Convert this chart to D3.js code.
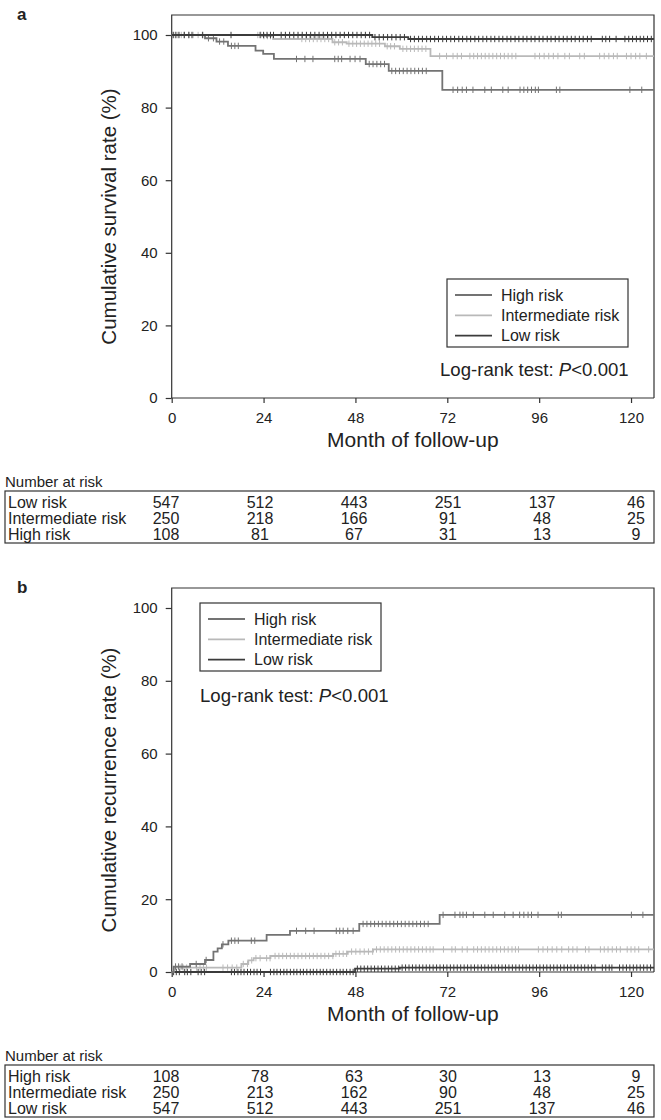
<!DOCTYPE html>
<html>
<head>
<meta charset="utf-8">
<script src="https://cdn.jsdelivr.net/npm/d3@7"></script>
<style>
  body { margin: 0; background: #fff; }
  svg { display: block; font-family: "Liberation Sans", Arial, Helvetica, sans-serif; }
</style>
</head>
<body>
<div id="chart"></div>
<script>
// follow-up months shown on the x axis and in the at-risk tables
const months = [0, 24, 48, 72, 96, 120];
const yTicks = [0, 20, 40, 60, 80, 100];
const groups = ["High risk", "Intermediate risk", "Low risk"];

// panel a: cumulative survival (%) steps [month, value]
const survHigh = [[0, 100], [8.7, 99.1], [11.7, 98.2], [14.7, 97.0], [21.9, 95.7], [23.9, 94.8], [26.7, 93.4], [50.7, 92.0], [56.7, 90.1], [70.7, 84.9]];
const survInt = [[0, 100], [23.5, 99.7], [26.5, 98.9], [42.0, 98.0], [45.7, 97.6], [55.7, 96.9], [59.6, 96.2], [67.6, 94.2]];
const survLow = [[0, 100], [52.4, 99.4], [61.8, 98.9]];

// panel a: censored times (months)
const survHighCens = [9.6, 10.9, 12.5, 13.6, 15.6, 16.5, 17.4, 32.6, 34.8, 36.9, 42.6, 43.5, 44.4, 46.6, 47.9, 49.2, 51.6, 52.6, 53.6, 54.6, 55.6,
  57.5, 58.5, 59.5, 60.5, 61.5, 62.5, 63.5, 64.5, 65.5, 66.5, 73.5, 74.7, 75.9, 77.0, 78.7, 81.8, 83.5, 86.5, 87.9,
  91.0, 92.0, 93.0, 94.0, 95.0, 95.8, 100.5, 101.4, 119.7, 122.8];
const survIntCens = [0.3, 0.9, 1.6, 2.5, 3.2, 4.4, 5.6, 6.9, 8.0, 22.5, 23.3, 24.1, 25.0, 25.8, 34.0, 35.0, 36.0, 37.0, 38.0, 39.0, 40.0, 41.0,
  42.6, 43.6, 44.6, 46.3, 47.3, 48.3, 49.3, 50.3, 51.3, 52.3, 53.3, 54.3, 56.3, 57.2, 58.2, 60.4, 61.4, 62.4, 63.4, 64.4, 65.4, 66.4,
  70.0, 71.8, 73.5, 74.6, 75.7, 77.9, 78.9, 79.9, 80.9, 81.9, 82.9, 83.9, 84.9, 85.9, 86.9, 87.9, 88.9, 89.9,
  94.9, 96.1, 97.3, 98.5, 99.7, 100.9, 102.7, 103.9, 106.6, 107.8, 111.8, 113.0, 114.2, 115.4, 116.4, 118.8, 120.0, 121.2, 122.3, 124.0];
const survLowCens = [0.4, 1.1, 1.9, 3.3, 4.5, 5.3, 8.1, 15.5, 23.1, 24.0, 24.9, 25.8, 26.6,
  28.6, 29.7, 30.8, 31.9, 33.0, 34.1, 35.2, 36.3, 37.4, 38.5, 39.6, 40.7, 41.8, 42.9, 44.0, 45.1, 46.2, 47.3, 48.4, 49.5, 50.6, 51.7,
  53.1, 54.2, 55.3, 56.4, 57.5, 58.6, 59.7, 60.8,
  62.4, 63.4, 64.5, 65.5, 66.6, 67.6, 68.7, 69.7, 70.8, 71.8, 72.9, 73.9, 75.0, 76.0, 77.1, 78.1, 79.2, 80.2, 81.3, 82.3, 83.4, 84.4,
  85.5, 86.5, 87.6, 88.6, 89.7, 90.7, 91.8, 92.8, 93.9, 94.9, 96.0, 97.0, 98.1, 99.1, 100.2, 101.2, 102.3, 103.3, 104.4, 105.4,
  106.5, 107.5, 108.6, 109.6, 112.5, 113.4, 114.4, 116.1, 118.4, 119.4, 120.4, 121.4, 122.4, 123.3, 124.3, 125.3];

// panel b: cumulative recurrence (%) steps
const recHigh = [[0, 0], [0.5, 1.5], [4.8, 2.2], [8.7, 3.3], [10.9, 5.6], [12.0, 6.5], [13.1, 7.6], [14.8, 8.6], [24.8, 10.2], [30.9, 11.3], [49.0, 13.2], [70.0, 15.7]];
const recInt = [[0, 0], [0.5, 1.2], [18.2, 2.2], [20.0, 3.2], [21.4, 3.8], [25.8, 4.4], [42.2, 5.0], [46.0, 5.6], [52.6, 6.2]];
const recLow = [[0, 0], [47.9, 0.9], [59.6, 1.2]];

// panel b: censored times
const recHighCens = [1.0, 1.8, 2.7, 6.4, 9.0, 13.4, 15.6, 16.5, 17.4, 20.8, 21.7, 32.6, 35.0, 37.2, 43.0, 43.9, 44.8, 46.0, 47.4,
  50.0, 51.0, 52.0, 53.0, 54.0, 55.0, 56.0, 57.0, 58.0, 59.0, 60.0, 61.0, 62.0, 63.0, 64.0, 65.0, 66.0, 67.0,
  70.9, 74.0, 75.3, 76.1, 77.0, 78.8, 81.8, 84.0, 87.0, 89.2, 90.9, 92.0, 93.1, 94.0, 95.7, 101.0, 101.8, 120.1, 123.1];
const recIntCens = [2.2, 3.0, 3.9, 6.5, 7.4, 8.3, 9.1, 13.4, 14.6, 15.8, 17.0, 18.7, 19.8, 20.9, 22.0, 23.1, 24.8, 25.7,
  27.0, 28.0, 29.0, 30.0, 31.0, 32.0, 33.0, 34.0, 35.0, 36.0, 37.0, 38.0, 39.0, 40.0, 41.0, 42.1, 42.9, 43.8, 44.8, 45.7,
  47.0, 48.1, 49.2, 50.3, 51.4, 52.5, 53.5, 54.5, 55.5, 56.5, 57.5, 58.5, 59.5, 60.5, 61.5, 62.5, 63.5, 64.5, 65.5, 66.5, 67.5, 68.3,
  71.0, 73.2, 74.1, 75.9, 77.2, 78.9, 79.9, 80.9, 81.9, 82.9, 83.9, 84.9, 85.9, 86.9, 87.9, 88.9, 89.8, 90.6,
  95.8, 97.0, 98.2, 99.4, 100.6, 101.9, 103.7, 104.8, 105.9, 108.1, 109.0, 112.0, 113.0, 114.0, 115.1, 116.2, 117.2,
  119.0, 120.0, 121.0, 122.0, 124.6];
const recLowCens = [0.5, 1.2, 2.0, 3.4, 4.1, 5.0, 6.9, 7.7, 8.6, 15.6, 16.4, 17.3, 18.1, 18.9, 19.8, 20.6, 21.5, 22.3, 23.2,
  25.8, 26.7, 27.5, 28.4, 29.3, 30.1, 31.0, 31.9, 32.7, 33.6, 34.4, 35.3, 36.2, 37.0, 37.9, 38.8, 39.6, 40.5, 41.4, 42.2, 43.1, 44.0,
  44.8, 45.7, 46.6, 47.4, 48.5, 49.4, 50.3, 51.2, 52.1, 53.0, 53.9, 54.8, 55.7, 56.6, 57.5, 58.4, 59.3, 60.2, 61.1, 62.0, 62.9,
  63.8, 64.7, 65.6, 66.5, 67.4, 68.3, 69.2, 70.1, 71.0, 71.9, 72.8, 73.7, 74.6, 75.5, 76.4, 77.3, 78.2, 79.1, 80.0, 80.9, 81.8,
  82.7, 83.6, 84.5, 85.4, 86.3, 87.2, 88.1, 89.0, 89.9, 90.8, 91.7, 92.6, 93.5, 94.4, 95.3, 96.2, 97.1, 98.0, 98.9, 99.8, 100.7,
  101.6, 102.5, 103.4, 104.3, 105.2, 106.1, 107.0, 107.9, 108.8, 109.7, 110.6, 112.5, 113.4, 114.3, 115.0,
  117.0, 117.9, 118.8, 119.7, 120.6, 121.5, 122.4, 123.3, 124.2, 125.1];

// number at risk
const riskA_low = [547, 512, 443, 251, 137, 46];
const riskA_int = [250, 218, 166, 91, 48, 25];
const riskA_high = [108, 81, 67, 31, 13, 9];
const riskB_high = [108, 78, 63, 30, 13, 9];
const riskB_int = [250, 213, 162, 90, 48, 25];
const riskB_low = [547, 512, 443, 251, 137, 46];

const W = 661, H = 1120;
const maxMonth = 126;
const colors = { "High risk": "#737373", "Intermediate risk": "#b9b9b9", "Low risk": "#3b3b3b" };
const ink = "#222";

const svg = d3.select("#chart").append("svg")
  .attr("width", W).attr("height", H);
svg.append("rect").attr("width", W).attr("height", H).attr("fill", "#fff");

const x = d3.scaleLinear().domain([0, maxMonth]).range([171.7, 654]);

// value of a step curve at time t
function stepAt(steps, t) {
  let v = steps[0][1];
  for (const s of steps) { if (s[0] <= t) v = s[1]; }
  return v;
}

function drawPanel(p) {
  const y = d3.scaleLinear().domain([0, 100]).range([p.y0, p.y100]);
  const top = p.y100 - 20;
  const g = svg.append("g");

  g.append("text").attr("x", 17).attr("y", top + 5)
    .attr("font-size", 17).attr("font-weight", "bold").attr("fill", ink).text(p.letter);

  // frame
  g.append("path")
    .attr("d", `M${x(0)},${p.y0}V${top}H${x(maxMonth)}V${p.y0}`)
    .attr("fill", "none").attr("stroke", "#333").attr("stroke-width", 1.2);

  // axes
  const xa = g.append("g").attr("transform", `translate(0,${p.y0})`)
    .call(d3.axisBottom(x).tickValues(months).tickSize(5).tickPadding(9).tickSizeOuter(0));
  const ya = g.append("g").attr("transform", `translate(${x(0)},0)`)
    .call(d3.axisLeft(y).tickValues(yTicks).tickSize(6).tickPadding(8).tickSizeOuter(0));
  [xa, ya].forEach(a => {
    a.select(".domain").remove();
    a.selectAll("line").attr("stroke", "#333").attr("stroke-width", 1.2);
    a.selectAll("text").attr("font-size", 15).attr("fill", ink)
      .attr("font-family", "'Liberation Sans', Arial, sans-serif");
  });
  g.append("line").attr("x1", x(0)).attr("x2", x(maxMonth)).attr("y1", p.y0).attr("y2", p.y0)
    .attr("stroke", "#333").attr("stroke-width", 1.2);

  g.append("text").attr("x", (x(0) + x(maxMonth)) / 2).attr("y", p.y0 + 49)
    .attr("text-anchor", "middle").attr("font-size", 21).attr("fill", ink).text("Month of follow-up");
  g.append("text")
    .attr("transform", `translate(116,${(p.y0 + p.y100) / 2}) rotate(-90)`)
    .attr("text-anchor", "middle").attr("font-size", 20.5).attr("fill", ink).text(p.ytitle);

  // curves
  const line = d3.line().x(d => x(d[0])).y(d => y(d[1])).curve(d3.curveStepAfter);
  p.series.forEach(s => {
    const pts = s.steps.concat([[maxMonth, s.steps[s.steps.length - 1][1]]]);
    const sg = g.append("g");
    sg.append("path").attr("d", line(pts))
      .attr("fill", "none").attr("stroke", colors[s.name]).attr("stroke-width", 1.8);
    sg.selectAll("line.cens").data(s.cens).join("line")
      .attr("class", "cens")
      .attr("x1", d => x(d)).attr("x2", d => x(d))
      .attr("y1", d => y(stepAt(s.steps, d)) - 3.2).attr("y2", d => y(stepAt(s.steps, d)) + 3.2)
      .attr("stroke", colors[s.name]).attr("stroke-width", 1);
  });

  // legend
  const L = p.legend;
  const lg = g.append("g").attr("transform", `translate(${L.x},${L.y})`);
  lg.append("rect").attr("width", 181).attr("height", 68)
    .attr("fill", "#fff").attr("stroke", "#333").attr("stroke-width", 1.2);
  groups.forEach((name, i) => {
    const cy = 16 + i * 20.3;
    lg.append("line").attr("x1", 8).attr("x2", 45).attr("y1", cy).attr("y2", cy)
      .attr("stroke", colors[name]).attr("stroke-width", 1.8);
    lg.append("text").attr("x", 54).attr("y", cy + 5.5)
      .attr("font-size", 16).attr("fill", ink).text(name);
  });

  const lr = g.append("text").attr("x", p.logrank[0]).attr("y", p.logrank[1])
    .attr("font-size", 18.6).attr("fill", ink);
  lr.append("tspan").text("Log-rank test: ");
  lr.append("tspan").attr("font-style", "italic").text("P");
  lr.append("tspan").text("<0.001");

  // number at risk table
  const tTop = p.y0 + 93;
  g.append("text").attr("x", 5).attr("y", tTop - 4)
    .attr("font-size", 15).attr("fill", ink).text("Number at risk");
  g.append("rect").attr("x", 5).attr("y", tTop).attr("width", 649).attr("height", 52)
    .attr("fill", "none").attr("stroke", "#333").attr("stroke-width", 1.2);
  const col = d3.scaleLinear().domain([0, months.length - 1]).range([166, 636]);
  p.table.forEach((row, i) => {
    const by = tTop + 16.5 + i * 16;
    g.append("text").attr("x", 8).attr("y", by).attr("font-size", 16).attr("fill", ink).text(row.name);
    g.selectAll(null).data(row.values).join("text")
      .attr("x", (d, j) => col(j)).attr("y", by)
      .attr("text-anchor", "middle").attr("font-size", 16).attr("fill", ink)
      .text(d => d);
  });
}

drawPanel({
  letter: "a", y0: 398, y100: 35, ytitle: "Cumulative survival rate (%)",
  series: [
    { name: "High risk", steps: survHigh, cens: survHighCens },
    { name: "Intermediate risk", steps: survInt, cens: survIntCens },
    { name: "Low risk", steps: survLow, cens: survLowCens }
  ],
  legend: { x: 447, y: 279 },
  logrank: [440, 376],
  table: [
    { name: "Low risk", values: riskA_low },
    { name: "Intermediate risk", values: riskA_int },
    { name: "High risk", values: riskA_high }
  ]
});

drawPanel({
  letter: "b", y0: 972, y100: 608, ytitle: "Cumulative recurrence rate (%)",
  series: [
    { name: "Low risk", steps: recLow, cens: recLowCens },
    { name: "Intermediate risk", steps: recInt, cens: recIntCens },
    { name: "High risk", steps: recHigh, cens: recHighCens }
  ],
  legend: { x: 200, y: 603 },
  logrank: [200, 702],
  table: [
    { name: "High risk", values: riskB_high },
    { name: "Intermediate risk", values: riskB_int },
    { name: "Low risk", values: riskB_low }
  ]
});
</script>
</body>
</html>
